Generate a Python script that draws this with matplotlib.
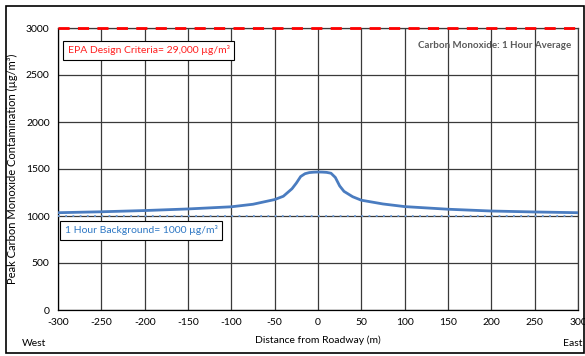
import numpy as np
import matplotlib
matplotlib.use("Agg")
import matplotlib.pyplot as plt
from matplotlib.patches import Rectangle

plt.rcParams['font.family'] = ['Lato', 'DejaVu Sans']
plt.rcParams['axes.unicode_minus'] = False

# distance from roadway (m) and peak CO concentration (ug/m3)
dist = [-300, -250, -200, -150, -100, -75, -50, -40, -30, -25, -20, -15, -10, -5, 0,
        5, 10, 15, 20, 25, 30, 40, 50, 75, 100, 150, 200, 250, 300]
conc = [1035, 1045, 1058, 1075, 1098, 1125, 1175, 1210, 1290, 1350, 1420, 1450, 1462, 1466, 1468,
        1467, 1464, 1455, 1410, 1320, 1262, 1205, 1168, 1128, 1100, 1072, 1053, 1043, 1035]

background = 1000
epa_limit = 3000   # 29,000 is off the scale, drawn at the top
xticks = list(range(-300, 301, 50))
yticks = list(range(0, 3001, 500))

fig = plt.figure(figsize=(5.85, 3.56), dpi=100)
ax = fig.add_axes([58/585, 1 - 310/356, 520/585, 282/356])

ax.set_xlim(-300, 300)
ax.set_ylim(0, 3000)
ax.set_xticks(xticks)
ax.set_yticks(yticks)
ax.grid(True, color='#3a3a3a', linewidth=0.9)
ax.set_axisbelow(True)
for s in ax.spines.values():
    s.set_color('#3a3a3a')
    s.set_linewidth(0.9)
ax.spines['left'].set_color('black')
ax.spines['bottom'].set_color('black')
ax.tick_params(length=0, labelsize=7.5, pad=6)

ax.axhline(background, color='#6a9bd8', linestyle=(0, (1, 3)), linewidth=1.3, zorder=3)
ax.axhline(epa_limit, color='#ff0000', linestyle=(0, (4, 3)), linewidth=2, zorder=3, clip_on=False)
ax.plot(dist, conc, color='#4a7cc0', linewidth=2, zorder=4)

ax.text(-289, 2730, 'EPA Design Criteria= 29,000 µg/m³', color='#ff2020', fontsize=7.5,
        bbox=dict(boxstyle='square,pad=0.45', facecolor='white', edgecolor='black', linewidth=0.8))
ax.text(-292, 815, '1 Hour Background= 1000 µg/m³', color='#2f78c4', fontsize=7.5,
        bbox=dict(boxstyle='square,pad=0.45', facecolor='white', edgecolor='black', linewidth=0.8))
ax.text(292, 2810, 'Carbon Monoxide: 1 Hour Average', color='#595959', fontsize=7,
        fontweight='bold', ha='right', va='center')

ax.set_ylabel('Peak Carbon Monoxide Contamination (µg/m³)', fontsize=8, labelpad=6)
fig.text(318/585, 1 - 340/356, 'Distance from Roadway (m)', fontsize=7.5, ha='center', va='center')
fig.text(22/585, 1 - 343/356, 'West', fontsize=7.5, ha='left', va='center')
fig.text(582/585, 1 - 343/356, 'East', fontsize=7.5, ha='right', va='center')

fig.patches.append(Rectangle((6/585, 3/356), 578/585, 347/356, transform=fig.transFigure,
                             fill=False, edgecolor='black', linewidth=1.2))

fig.savefig('out.png', dpi=100)
